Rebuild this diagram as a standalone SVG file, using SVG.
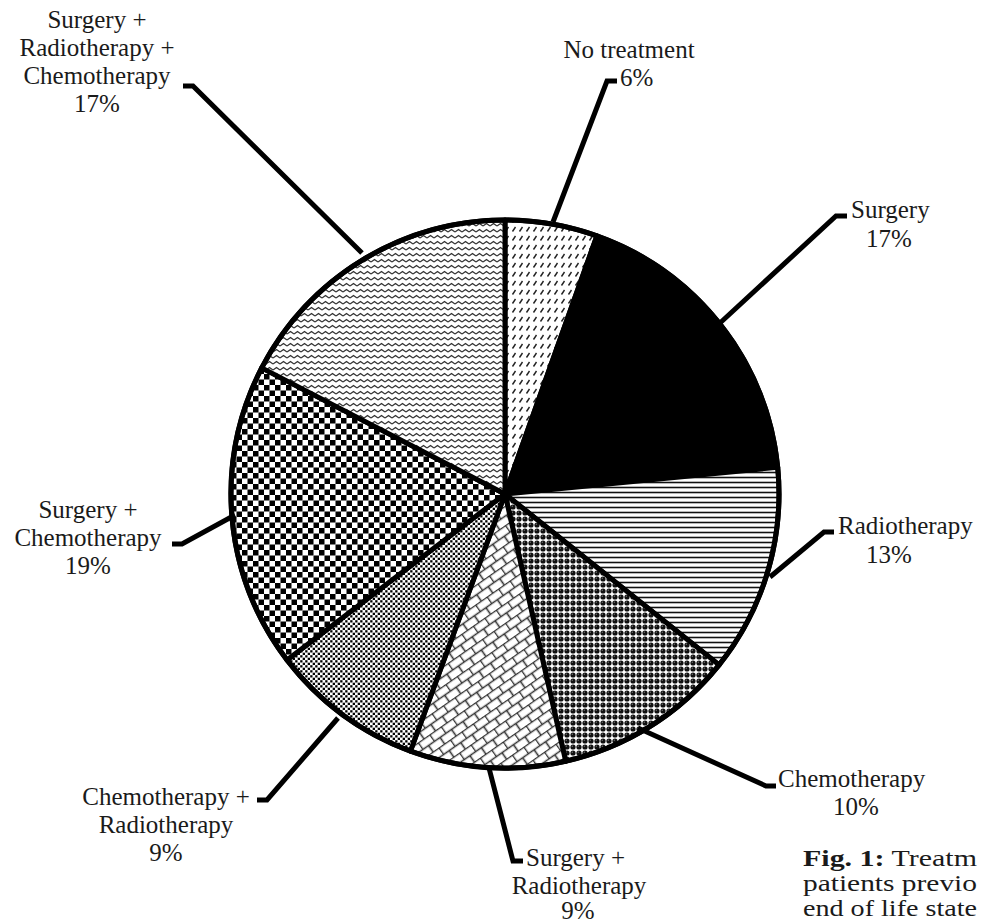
<svg xmlns="http://www.w3.org/2000/svg" width="981" height="924" viewBox="0 0 981 924">
<style>
.lbl{font-family:"Liberation Serif","Times New Roman",serif;font-size:25px;fill:#1a1a1a}
.mid{text-anchor:middle}
.cap{font-family:"Liberation Serif","Times New Roman",serif;font-size:23px;fill:#1a1a1a}
.slice{stroke:#000;stroke-width:5;stroke-linejoin:round}
.lead{fill:none;stroke:#000;stroke-width:5;stroke-linejoin:miter;stroke-linecap:butt}
</style>
<defs>
<pattern id="pDash" width="7" height="9" patternUnits="userSpaceOnUse">
<rect width="7" height="9" fill="#fff"/>
<line x1="1.5" y1="6.5" x2="4.5" y2="2" stroke="#222" stroke-width="1.4"/>
</pattern>
<pattern id="pHoriz" width="10" height="5" patternUnits="userSpaceOnUse">
<rect width="10" height="5" fill="#fff"/>
<line x1="0" y1="2.5" x2="10" y2="2.5" stroke="#111" stroke-width="1.6"/>
</pattern>
<pattern id="pSphere" width="6" height="6" patternUnits="userSpaceOnUse">
<rect width="6" height="6" fill="#fff"/>
<circle cx="3" cy="3" r="2.6" fill="#111"/>
<circle cx="2.3" cy="2.2" r="0.6" fill="#888"/>
</pattern>
<pattern id="pBrick" width="14" height="16" patternUnits="userSpaceOnUse" patternTransform="rotate(-35)">
<rect width="14" height="16" fill="#fff"/>
<path d="M0,0.5 H14 M0,8.5 H14 M0.5,0 V8.5 M7.5,8.5 V16" stroke="#333" stroke-width="1.6" fill="none"/>
</pattern>
<pattern id="pDots" width="5" height="5" patternUnits="userSpaceOnUse">
<rect width="5" height="5" fill="#fff"/>
<rect x="0.2" y="0.2" width="2.3" height="2.3" fill="#000"/>
<rect x="2.7" y="2.7" width="2.3" height="2.3" fill="#000"/>
</pattern>
<pattern id="pCheck" width="11" height="11" patternUnits="userSpaceOnUse">
<rect width="11" height="11" fill="#fff"/>
<rect x="0" y="0" width="5.5" height="5.5" fill="#000"/>
<rect x="5.5" y="5.5" width="5.5" height="5.5" fill="#000"/>
</pattern>
<pattern id="pZig" width="7" height="6" patternUnits="userSpaceOnUse">
<rect width="7" height="6" fill="#fff"/>
<path d="M0,4 L3.5,1.5 L7,4" stroke="#333" stroke-width="1.3" fill="none"/>
</pattern>
</defs>

<g id="pie">
<g id="slice-no-treatment"><path class="slice" fill="url(#pDash)" d="M505,494 L505,220 A274,274 0 0 1 596.9,235.9 Z"/></g>
<g id="slice-surgery"><path class="slice" fill="#000" d="M505,494 L596.9,235.9 A274,274 0 0 1 777.7,467.3 Z"/></g>
<g id="slice-radiotherapy"><path class="slice" fill="url(#pHoriz)" d="M505,494 L777.7,467.3 A274,274 0 0 1 719.1,664.9 Z"/></g>
<g id="slice-chemotherapy"><path class="slice" fill="url(#pSphere)" d="M505,494 L719.1,664.9 A274,274 0 0 1 565.7,761.2 Z"/></g>
<g id="slice-surgery-radiotherapy"><path class="slice" fill="url(#pBrick)" d="M505,494 L565.7,761.2 A274,274 0 0 1 410.4,751.1 Z"/></g>
<g id="slice-chemo-radiotherapy"><path class="slice" fill="url(#pDots)" d="M505,494 L410.4,751.1 A274,274 0 0 1 287,660 Z"/></g>
<g id="slice-surgery-chemotherapy"><path class="slice" fill="url(#pCheck)" d="M505,494 L287,660 A274,274 0 0 1 261.7,367.9 Z"/></g>
<g id="slice-surgery-radio-chemo"><path class="slice" fill="url(#pZig)" d="M505,494 L261.7,367.9 A274,274 0 0 1 505,220 Z"/></g>
<circle cx="505" cy="494" r="274" fill="none" stroke="#000" stroke-width="5"/>
</g>

<g id="connectors">
<path class="lead" d="M617,81 L607,81 L553,222"/>
<path class="lead" d="M847,216 L836,216 L720,323"/>
<path class="lead" d="M834,532 L824,532 L770,577"/>
<path class="lead" d="M776,786 L766,786 L638,728"/>
<path class="lead" d="M523,861 L513,861 L489,768"/>
<path class="lead" d="M257,800 L267,800 L338,718"/>
<path class="lead" d="M172,544 L182,544 L235,515"/>
<path class="lead" d="M183,86 L193,86 L362,253"/>
</g>

<g id="label-no-treatment">
<text class="lbl mid" x="629" y="58">No treatment</text>
<text class="lbl" x="620" y="86">6%</text>
</g>
<g id="label-surgery">
<text class="lbl" x="851" y="218">Surgery</text>
<text class="lbl mid" x="889" y="247">17%</text>
</g>
<g id="label-radiotherapy">
<text class="lbl" x="838" y="534">Radiotherapy</text>
<text class="lbl mid" x="889" y="563">13%</text>
</g>
<g id="label-chemotherapy">
<text class="lbl" x="778" y="787">Chemotherapy</text>
<text class="lbl mid" x="856" y="815">10%</text>
</g>
<g id="label-surgery-radiotherapy">
<text class="lbl" x="526" y="866">Surgery +</text>
<text class="lbl mid" x="579" y="894">Radiotherapy</text>
<text class="lbl mid" x="578" y="919">9%</text>
</g>
<g id="label-chemo-radiotherapy">
<text class="lbl mid" x="166" y="805">Chemotherapy +</text>
<text class="lbl mid" x="166" y="833">Radiotherapy</text>
<text class="lbl mid" x="166" y="861">9%</text>
</g>
<g id="label-surgery-chemotherapy">
<text class="lbl mid" x="88" y="518">Surgery +</text>
<text class="lbl mid" x="88" y="546">Chemotherapy</text>
<text class="lbl mid" x="88" y="574">19%</text>
</g>
<g id="label-surgery-radio-chemo">
<text class="lbl mid" x="97" y="28">Surgery +</text>
<text class="lbl mid" x="97" y="56">Radiotherapy +</text>
<text class="lbl mid" x="97" y="84">Chemotherapy</text>
<text class="lbl mid" x="97" y="112">17%</text>
</g>

<g id="caption">
<text class="cap" x="803" y="866" textLength="174" lengthAdjust="spacingAndGlyphs"><tspan font-weight="bold">Fig. 1:</tspan> Treatm</text>
<text class="cap" x="803" y="891" textLength="174" lengthAdjust="spacingAndGlyphs">patients previo</text>
<text class="cap" x="803" y="916" textLength="174" lengthAdjust="spacingAndGlyphs">end of life state</text>
</g>
</svg>
